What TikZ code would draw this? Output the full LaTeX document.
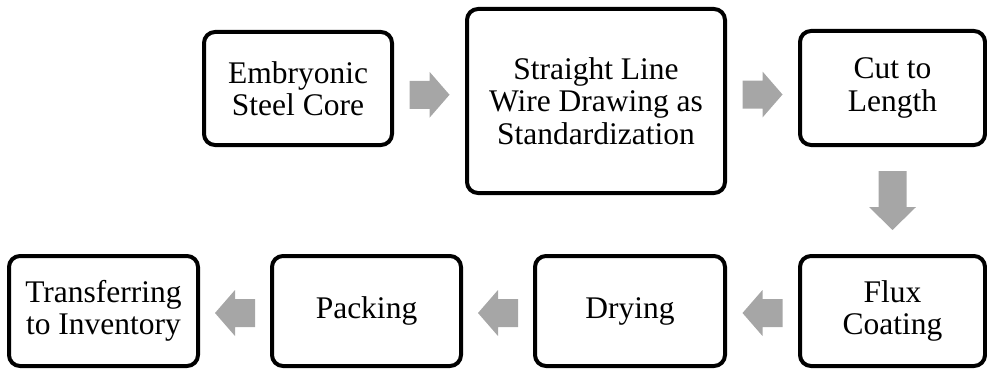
\documentclass[tikz,border=0pt]{standalone}
\usepackage{fontspec}
\setmainfont{Liberation Serif}
\usetikzlibrary{calc}
\definecolor{arrowgray}{RGB}{166,166,166}
\tikzset{
  stepbox/.style={draw=black, line width=4pt, rounded corners=11pt, fill=white,
    align=center, inner sep=0pt, font=\fontsize{31.5}{32.5}\selectfont},
  barrow/.pic={\fill[arrowgray] (-20,-14) -- (0,-14) -- (0,-23) -- (20,0) -- (0,23) -- (0,14) -- (-20,14) -- cycle;},
  barrowlong/.pic={\fill[arrowgray] (-29.5,-14) -- (6.5,-14) -- (6.5,-23.5) -- (29.5,0) -- (6.5,23.5) -- (6.5,14) -- (-29.5,14) -- cycle;}
}
\begin{document}
\begin{tikzpicture}[x=1pt,y=-1pt]
\useasboundingbox (0,0) rectangle (987,369);
\node[stepbox, minimum width=188pt, minimum height=113pt] (n1) at (298,88.5) {Embryonic\\Steel Core};
\node[stepbox, minimum width=258pt, minimum height=184pt] (n2) at (596,101) {Straight Line\\Wire Drawing as\\Standardization};
\node[stepbox, minimum width=185pt, minimum height=114pt] (n3) at (892.5,88) {Cut to\\Length};
\node[stepbox, minimum width=185pt, minimum height=110pt] (n4) at (892.5,311) {Flux\\Coating};
\node[stepbox, minimum width=190pt, minimum height=110pt] (n5) at (630,311) {Drying};
\node[stepbox, minimum width=189pt, minimum height=110pt] (n6) at (366.5,311) {Packing};
\node[stepbox, minimum width=189pt, minimum height=110pt] (n7) at (103.5,311) {Transferring\\to Inventory};
\pic at ($(n1.east)!0.5!(n2.west)$) {barrow};
\pic at ($(n2.east)!0.5!(n3.west)$) {barrow};
\pic[rotate=-90] at ($(n3.south)!0.5!(n4.north)$) {barrowlong};
\pic[rotate=180] at ($(n4.west)!0.5!(n5.east)+(0,2)$) {barrow};
\pic[rotate=180] at ($(n5.west)!0.5!(n6.east)+(0,2)$) {barrow};
\pic[rotate=180] at ($(n6.west)!0.5!(n7.east)+(0,2)$) {barrow};
\end{tikzpicture}
\end{document}
